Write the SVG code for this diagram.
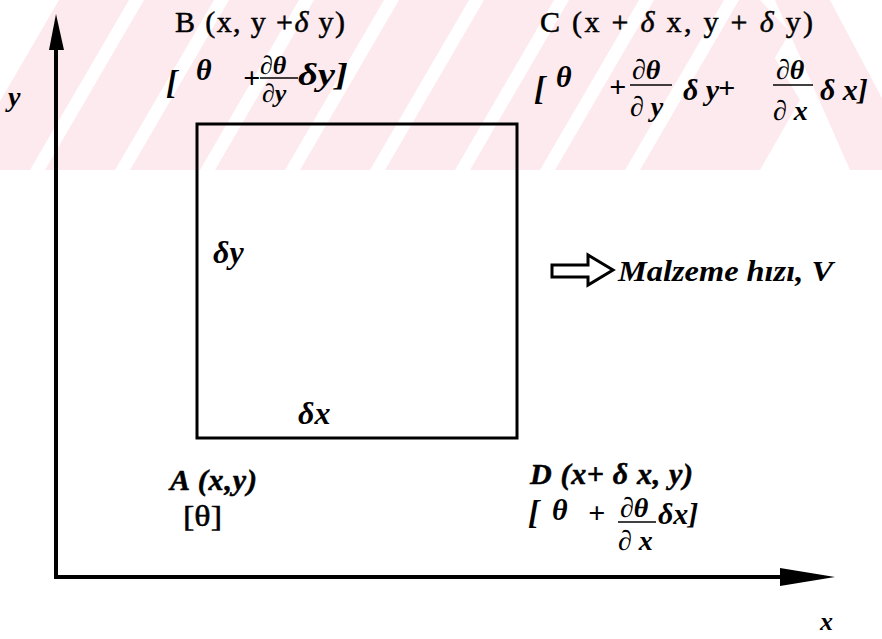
<svg xmlns="http://www.w3.org/2000/svg" width="882" height="639" viewBox="0 0 882 639">
<style>
.t{font-family:"Liberation Serif","Times New Roman",serif;fill:#000}
.r{font-size:30px;stroke:#000;stroke-width:0.5}
.bi{font-style:italic;font-weight:bold}
.br{font-size:34px}
.f{font-size:30px}
.fs{font-size:28px}
.ax{stroke:#000;stroke-width:4;fill:none}
.bar{stroke:#000;stroke-width:1.3}
.wm{fill:#fdeaee}
</style>
<defs>
<clipPath id="band"><rect x="0" y="0" width="882" height="170"/></clipPath>
</defs>
<rect width="882" height="639" fill="#fff"/>
<g id="watermark" clip-path="url(#band)">
<polygon class="wm" points="-40,170 30,170 129,0 59,0"/>
<polygon class="wm" points="45,170 115,170 214,0 144,0"/>
<polygon class="wm" points="130,170 200,170 299,0 229,0"/>
<polygon class="wm" points="215,170 285,170 384,0 314,0"/>
<polygon class="wm" points="300,170 370,170 469,0 399,0"/>
<polygon class="wm" points="385,170 455,170 554,0 484,0"/>
<polygon class="wm" points="470,170 540,170 639,0 569,0"/>
<polygon class="wm" points="555,170 625,170 724,0 654,0"/>
<polygon class="wm" points="640,170 710,170 790,32 760,0 739,0"/>
<polygon class="wm" points="775,0 830,0 920,170 850,170"/>
<polygon class="wm" points="700,170 760,170 800,100 770,50"/>
</g>
<g id="axes">
<line class="ax" x1="56" y1="45" x2="56" y2="579"/>
<polygon points="56,14 49,50 64,50" fill="#000"/>
<line class="ax" x1="54" y1="577" x2="785" y2="577"/>
<polygon points="835,577 780,568 780,586" fill="#000"/>
<text class="t bi" x="8" y="106" font-size="28">y</text>
<text class="t bi" x="820" y="630" font-size="26">x</text>
</g>
<g id="element">
<rect x="197" y="124" width="320" height="314" fill="none" stroke="#000" stroke-width="3"/>
<text class="t bi" x="213" y="263" font-size="32">δy</text>
<text class="t bi" x="298" y="424" font-size="32">δx</text>
</g>
<g id="nodeB">
<text class="t r" x="175" y="32" textLength="170" lengthAdjust="spacing">B  (x, y +<tspan font-style="italic">δ</tspan>  y)</text>
<text class="t bi br" x="166" y="94">[</text>
<text class="t bi f" x="196" y="80">θ</text>
<text class="t bi f" x="243" y="88">+</text>
<text class="t bi" x="260" y="74" font-size="26">∂θ</text>
<line class="bar" x1="260" y1="78" x2="298" y2="78"/>
<text class="t bi" x="262" y="102" font-size="26">∂y</text>
<text class="t bi" x="298" y="85" font-size="32" textLength="50" lengthAdjust="spacingAndGlyphs">δy]</text>
</g>
<g id="nodeC">
<text class="t r" x="540" y="32" textLength="273" lengthAdjust="spacing">C  (x + <tspan font-style="italic">δ</tspan> x,  y + <tspan font-style="italic">δ</tspan> y)</text>
<text class="t bi br" x="534" y="100">[</text>
<text class="t bi f" x="556" y="87">θ</text>
<text class="t bi f" x="609" y="97">+</text>
<text class="t bi fs" x="632" y="79">∂θ</text>
<line class="bar" x1="630" y1="85" x2="672" y2="85"/>
<text class="t bi fs" x="630" y="116">∂ y</text>
<text class="t bi f" x="683" y="100">δ y</text>
<text class="t bi f" x="718" y="98">+</text>
<text class="t bi fs" x="776" y="79">∂θ</text>
<line class="bar" x1="773" y1="85" x2="813" y2="85"/>
<text class="t bi fs" x="773" y="120">∂ x</text>
<text class="t bi f" x="820" y="100">δ x]</text>
</g>
<g id="nodeA">
<text class="t bi r" x="170" y="490" textLength="87" lengthAdjust="spacing" stroke-width="0">A (x,y)</text>
<text class="t r" x="183" y="526" textLength="39" lengthAdjust="spacingAndGlyphs">[θ]</text>
</g>
<g id="nodeD">
<text class="t bi r" x="530" y="484" textLength="163" lengthAdjust="spacing" stroke-width="0">D (x+ δ x, y)</text>
<text class="t bi br" x="528" y="524">[</text>
<text class="t bi f" x="552" y="520">θ</text>
<text class="t bi f" x="588" y="523">+</text>
<text class="t bi fs" x="620" y="517">∂θ</text>
<line class="bar" x1="618" y1="522" x2="656" y2="522"/>
<text class="t bi fs" x="618" y="550">∂ x</text>
<text class="t bi f" x="658" y="524">δx]</text>
</g>
<g id="velocity">
<polygon points="552,265 588,265 588,255 613,270 588,285 588,277 552,277" fill="#fff" stroke="#000" stroke-width="3" stroke-linejoin="miter"/>
<text class="t bi" x="618" y="281" font-size="29" textLength="215" lengthAdjust="spacingAndGlyphs">Malzeme hızı, V</text>
</g>
</svg>
